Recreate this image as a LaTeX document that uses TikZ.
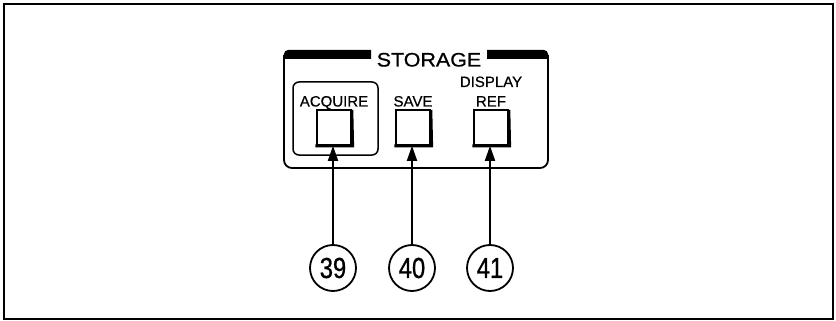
\documentclass[tikz,border=0pt]{standalone}
\usepackage{fontspec}
\setmainfont[FakeBold=0.6]{Liberation Sans}
\newfontfamily\wideF[FakeStretch=1.1,FakeBold=0.8]{Liberation Sans}
\newfontfamily\narrowF[FakeStretch=0.82,FakeBold=0.8]{Liberation Sans}
\usetikzlibrary{arrows.meta}
\begin{document}
\begin{tikzpicture}[x=1pt,y=-1pt,line width=1.8pt,
  btn/.style={draw,minimum width=34pt,minimum height=35pt,inner sep=0pt,line width=1.6pt},
  lbl/.style={font=\fontsize{15}{15}\selectfont,inner sep=0pt,anchor=base},
  num/.style={draw,circle,minimum size=46pt,inner sep=0pt,line width=1.8pt,font=\narrowF\fontsize{29}{29}\selectfont},
  arr/.style={-{Triangle[length=15pt,width=10pt]},line width=1.8pt}]
\useasboundingbox (0,0) rectangle (836,321);
% outer frame
\draw[line width=2pt] (4,4) rectangle (833,319);
% panel
\draw[rounded corners=8pt] (284,55) -- (284,168) -- (548,168) -- (548,55);
\fill (371,50) -- (288,50) arc[start angle=90,end angle=180,radius=4pt] -- (284,59) -- (371,59) -- cycle;
\fill (487,50) -- (544,50) arc[start angle=90,end angle=0,radius=4pt] -- (548,59) -- (487,59) -- cycle;
\node[font=\wideF\fontsize{19.5}{19.5}\selectfont,inner sep=0pt,anchor=base] (storage) at (429,66.5) {STORAGE};
% acquire group box
\draw[rounded corners=6pt,line width=1.5pt] (293,82) rectangle (378,155);
% labels
\node[lbl] (lacq) at (334,106.5) {ACQUIRE};
\node[lbl] (lsave) at (413,106.5) {SAVE};
\node[lbl] (ldisp) at (491,87) {DISPLAY};
\node[lbl] (lref) at (491,106.5) {REF};
% buttons
\node[btn] (b39) at (334,127.5) {};
\node[btn] (b40) at (413,127.5) {};
\node[btn] (b41) at (491,127.5) {};
\foreach \b in {b39,b40,b41}{
  \draw[line width=3pt] ([xshift=-0.8pt]\b.south west) -- ([xshift=0.8pt]\b.south east) -- ([yshift=-0.8pt]\b.north east);
}
% callouts
\node[num] (c39) at (333,268) {39};
\node[num] (c40) at (412,268) {40};
\node[num] (c41) at (490,268) {41};
\draw[arr] (c39.north) -- (c39.north |- b39.south);
\draw[arr] (c40.north) -- (c40.north |- b40.south);
\draw[arr] (c41.north) -- (c41.north |- b41.south);
\end{tikzpicture}
\end{document}
